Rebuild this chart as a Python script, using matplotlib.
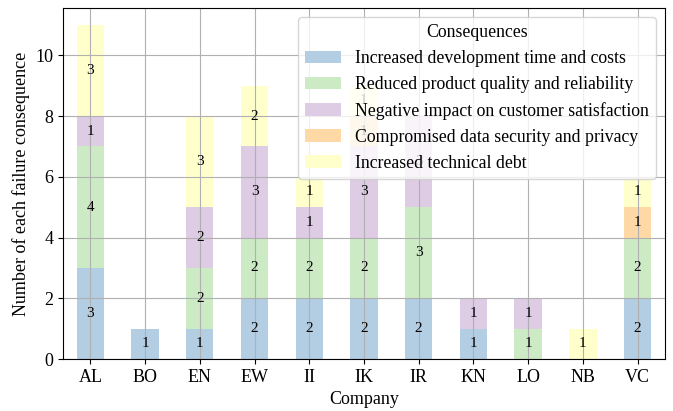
import numpy as np
import matplotlib
matplotlib.use("Agg")
import matplotlib.pyplot as plt

plt.rcParams['font.family'] = ['Liberation Serif', 'DejaVu Serif']

companies = ["AL", "BO", "EN", "EW", "II", "IK", "IR", "KN", "LO", "NB", "VC"]
consequences = [
    "Increased development time and costs",
    "Reduced product quality and reliability",
    "Negative impact on customer satisfaction",
    "Compromised data security and privacy",
    "Increased technical debt",
]
dev_time = [3, 1, 1, 2, 2, 2, 2, 1, 0, 0, 2]
quality = [4, 0, 2, 2, 2, 2, 3, 0, 1, 0, 2]
customer = [1, 0, 2, 3, 1, 3, 3, 1, 1, 0, 0]
security = [0, 0, 0, 0, 0, 1, 0, 0, 0, 0, 1]
tech_debt = [3, 0, 3, 2, 1, 1, 0, 0, 0, 1, 1]

series = [dev_time, quality, customer, security, tech_debt]
colors = ["#b3cde3", "#ccebc5", "#decbe4", "#fed9a6", "#ffffcc"]

fig, ax = plt.subplots(figsize=(6.73, 4.11), dpi=100)
x = np.arange(len(companies))
bottom = np.zeros(len(companies))
for vals, name, col in zip(series, consequences, colors):
    vals = np.array(vals)
    bars = ax.bar(x, vals, 0.5, bottom=bottom, color=col, label=name)
    labels = [str(v) if v > 0 else "" for v in vals]
    ax.bar_label(bars, labels=labels, label_type="center", fontsize=11)
    bottom += vals

ax.set_xticks(x)
ax.set_xticklabels(companies, fontsize=13)
ax.tick_params(axis='y', labelsize=13)
ax.set_xlim(-0.5, len(companies) - 0.5)
ax.set_ylim(0, 11.55)
ax.set_xlabel("Company", fontsize=13)
ax.set_ylabel("Number of each failure consequence", fontsize=13)
ax.grid(True, color="#b0b0b0", linewidth=0.8)
ax.legend(title="Consequences", loc="upper right", fontsize=12.8, title_fontsize=12.8)

fig.subplots_adjust(left=0.0936, right=0.988, top=0.98, bottom=0.1265)
fig.savefig("out.png")
